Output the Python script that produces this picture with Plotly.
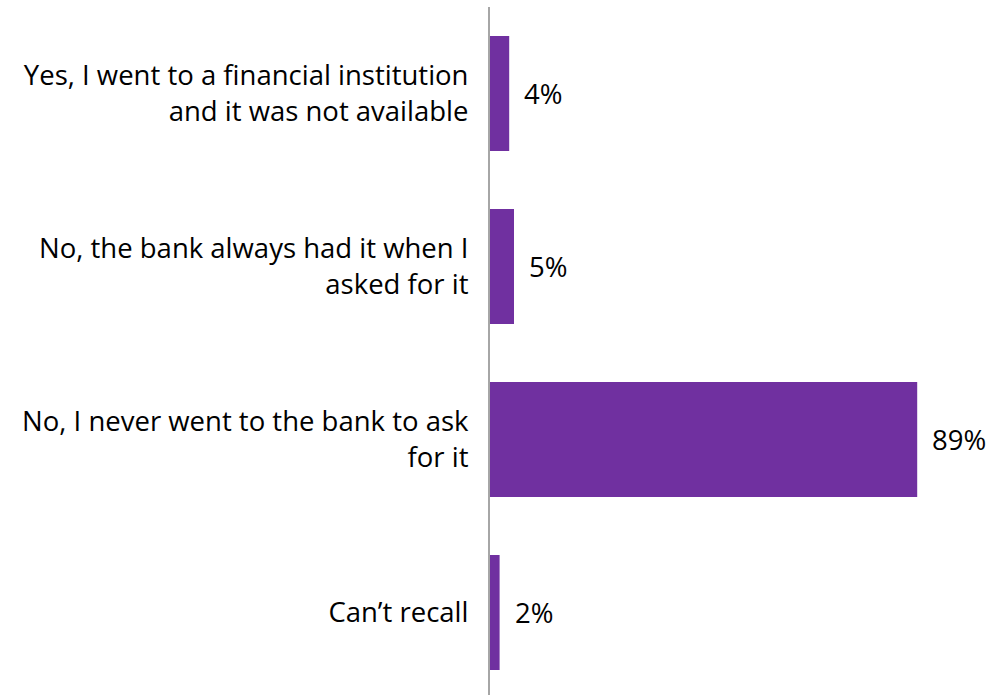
import plotly.graph_objects as go

# Survey answers and share of respondents (%)
categories = [
    "Yes, I went to a financial institution<br>and it was not available",
    "No, the bank always had it when I<br>asked for it",
    "No, I never went to the bank to ask<br>for it",
    "Can\u2019t recall",
]
values = [4, 5, 89, 2]
value_labels = [f"{v}%" for v in values]

BAR_COLOR = "#7030A0"
FONT = "Open Sans"
FONT_SIZE = 27.5

fig = go.Figure(
    go.Bar(
        x=values,
        y=categories,
        orientation="h",
        marker=dict(color=BAR_COLOR, line=dict(width=0)),
        width=0.665,
        hoverinfo="skip",
    )
)

for cat, v, lab in zip(categories, values, value_labels):
    fig.add_annotation(
        x=v, y=cat, text=lab, showarrow=False,
        xanchor="left", yanchor="middle", xshift=13,
        font=dict(family=FONT, size=FONT_SIZE, color="#000000"),
    )

fig.update_layout(
    width=991, height=695,
    margin=dict(l=490, r=21, t=7, b=0),
    paper_bgcolor="white", plot_bgcolor="white",
    showlegend=False,
    font=dict(family=FONT, size=FONT_SIZE, color="#000000"),
    xaxis=dict(range=[0, 100], visible=False, showgrid=False, zeroline=False),
    yaxis=dict(
        type="category",
        categoryorder="array", categoryarray=categories,
        range=[3.477, -0.5],
        showline=True, linecolor="#A6A6A6", linewidth=2,
        showgrid=False, zeroline=False,
        ticks="", ticklabelstandoff=14,
        tickfont=dict(family=FONT, size=FONT_SIZE, color="#000000"),
    ),
)

fig.write_html("out.html")
